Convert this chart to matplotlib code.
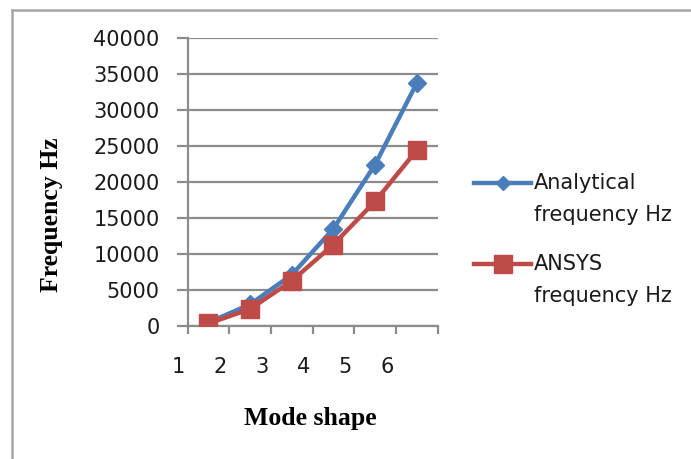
import matplotlib
matplotlib.use("Agg")
import matplotlib.pyplot as plt
from matplotlib.lines import Line2D

# ---------------- data ----------------
modes = [1, 2, 3, 4, 5, 6]
analytical_hz = [480, 3000, 7100, 13500, 22400, 33700]
ansys_hz = [350, 2350, 6250, 11300, 17300, 24400]
y_ticks = [0, 5000, 10000, 15000, 20000, 25000, 30000, 35000, 40000]

blue = "#4a7ebb"
red = "#be4b48"
grid_gray = "#8c8c8c"

W, H = 691, 459
fig = plt.figure(figsize=(W / 100, H / 100), dpi=100)

def fx(px):
    return px / W

def fy(py):
    return 1 - py / H

# plot area
ax = fig.add_axes([fx(187.5), fy(326), fx(437.5) - fx(187.5), fy(38) - fy(326)])
ax.set_xlim(0.5, 6.5)
ax.set_ylim(0, 40000)

ax.plot(modes, analytical_hz, color=blue, lw=3.2, marker="D", ms=9, zorder=3)
ax.plot(modes, ansys_hz, color=red, lw=3.2, marker="s", ms=13, zorder=4)

# gridlines and axes
ax.set_yticks(y_ticks)
ax.set_yticklabels([str(v) for v in y_ticks])
ax.yaxis.grid(True, color=grid_gray, lw=1.6)
ax.set_axisbelow(True)
for s in ["top", "right"]:
    ax.spines[s].set_visible(False)
for s in ["left", "bottom"]:
    ax.spines[s].set_color(grid_gray)
    ax.spines[s].set_linewidth(1.6)
ax.tick_params(axis="y", length=8, width=1.6, color=grid_gray, pad=12,
               labelsize=15, labelcolor="#1a1a1a")

# category boundaries get tick marks, labels sit to the left of each category
ax.set_xticks([])
ax.set_xticks([m - 0.5 for m in modes] + [6.5], minor=True)
ax.tick_params(axis="x", which="minor", length=6, width=1.6, color=grid_gray)
for m in modes:
    ax.text(m - 0.71, -0.143, str(m), transform=ax.get_xaxis_transform(),
            ha="center", va="center", fontsize=15, color="#1a1a1a")

fig.text(fx(310), fy(418), "Mode shape", ha="center", va="center",
         fontsize=18.5, fontweight="bold", family="Liberation Serif")
fig.text(fx(52), fy(215), "Frequency Hz", ha="center", va="center",
         rotation=90, fontsize=18.5, fontweight="bold", family="Liberation Serif")

# legend
legend_items = [
    (blue, "D", 7, 183, "Analytical", 215),
    (red, "s", 13, 264, "ANSYS", 296),
]
for color, mk, ms, ly, first, ly2 in legend_items:
    fig.add_artist(Line2D([fx(474), fx(531)], [fy(ly), fy(ly)], color=color, lw=3.2))
    fig.add_artist(Line2D([fx(502.5)], [fy(ly)], color=color, marker=mk, ms=ms))
    fig.text(fx(534), fy(ly), first, ha="left", va="center", fontsize=15, color="#1a1a1a")
    fig.text(fx(534), fy(ly2), "frequency Hz", ha="left", va="center",
             fontsize=15, color="#1a1a1a")

# chart frame
frame_gray = "#a6a6a6"
fig.add_artist(Line2D([fx(11.5), fx(11.5)], [fy(10), 0], color=frame_gray, lw=1.8))
fig.add_artist(Line2D([fx(11.5), 1], [fy(10), fy(10)], color=frame_gray, lw=1.8))

fig.savefig("out.png", dpi=100)
